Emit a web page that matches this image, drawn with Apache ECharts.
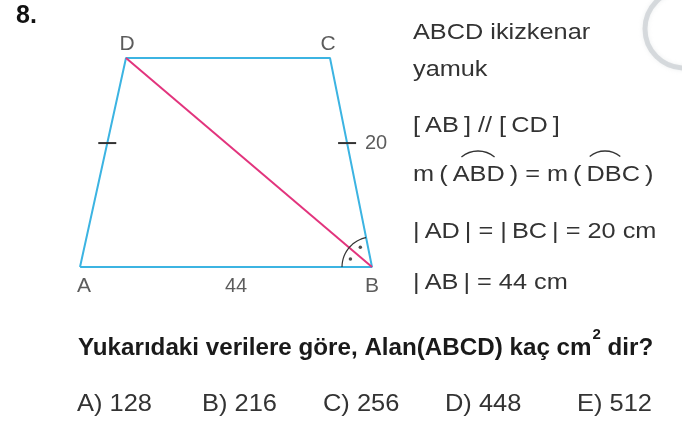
<!DOCTYPE html>
<html><head><meta charset="utf-8">
<script src="https://cdn.jsdelivr.net/npm/echarts@6/dist/echarts.min.js"></script>
<style>html,body{margin:0;padding:0;background:#fff}#c{width:682px;height:423px}</style>
</head><body><div id="c"></div>
<script>
// ---- data ----
const vertexNames = ['A', 'B', 'C', 'D'];
const vertexX = [80, 372, 330, 126];
const vertexY = [267, 267, 58, 58];
const sideLabelAB = '44';
const sideLabelBC = '20';
const givenLines = ['ABCD ikizkenar', 'yamuk', '[\u2009AB\u2009] // [\u2009CD\u2009]', 'm\u2009(\u2009ABD\u2009) = m\u2009(\u2009DBC\u2009)', '|\u2009AD\u2009| = |\u2009BC\u2009| = 20 cm', '|\u2009AB\u2009| = 44 cm'];
const questionNumber = '8.';
const questionMain = 'Yukarıdaki verilere göre, Alan(ABCD) kaç cm';
const questionSup = '2';
const questionTail = ' dir?';
const choiceLabels = ['A) 128', 'B) 216', 'C) 256', 'D) 448', 'E) 512'];

// ---- layout ----
const givenY = [33, 70, 126, 175, 232, 283];
const choiceX = [77, 202, 323, 445, 577];
const CYAN = '#3cb4e2', PINK = '#e2347d', TXT = '#333';

const P = i => [vertexX[i], vertexY[i]];
const A = P(0), B = P(1), C = P(2), D = P(3);
const along = (p, q, t) => [p[0] + (q[0] - p[0]) * t, p[1] + (q[1] - p[1]) * t];
const tickT = 0.593;
const t1 = along(A, D, tickT), t2 = along(B, C, tickT);
const ang = (from, to) => Math.atan2(to[1] - from[1], to[0] - from[0]);
const fix = a => (a < 0 ? a + 2 * Math.PI : a);
const aBA = fix(ang(B, A)), aBD = fix(ang(B, D)), aBC = fix(ang(B, C));
const arcPts = [];
for (let k = 0; k <= 30; k++) {
  const a = aBA + (aBC - aBA) * k / 30;
  arcPts.push([B[0] + 30 * Math.cos(a), B[1] + 30 * Math.sin(a)]);
}
const dotR = 23;
const m1 = (aBA + aBD) / 2, m2 = (aBD + aBC) / 2;
const dots = [[B[0] + dotR * Math.cos(m1), B[1] + dotR * Math.sin(m1)], [B[0] + dotR * Math.cos(m2), B[1] + dotR * Math.sin(m2)]];

const labelOffsets = [[4, 19], [0, 19], [-2, -14], [1, -14]];
const vertexLabelData = vertexNames.map((n, i) => ({
  name: n, value: P(i),
  label: { show: true, formatter: n, offset: labelOffsets[i] }
}));
const sideLabelData = [
  { name: sideLabelAB, value: along(A, B, 0.5), label: { show: true, formatter: sideLabelAB, offset: [10, 19] } },
  { name: sideLabelBC, value: t2, label: { show: true, formatter: sideLabelBC, offset: [29, 0] } }
];

const ctx = document.createElement('canvas').getContext('2d');
const measure = (t, f) => { ctx.font = f; return ctx.measureText(t).width; };
const QFONT = 'bold 24.2px "Liberation Sans"';
const SFONT = 'bold 15px "Liberation Sans"';
const qW = measure(questionMain, QFONT);
const sW = measure(questionSup, SFONT);

const chart = echarts.init(document.getElementById('c'));
const seg = (data, color, w) => ({ type: 'line', data, symbol: 'none', silent: true, animation: false, lineStyle: { color, width: w } });

const graphic = [];
graphic.push({ type: 'text', x: 16, y: 16, style: { text: questionNumber, font: 'bold 25px "Liberation Sans"', fill: '#111', textVerticalAlign: 'middle' } });
givenLines.forEach((t, i) => {
  graphic.push({ type: 'text', x: 413, y: givenY[i], scaleX: 1.15, style: { text: t, font: '22px "Liberation Sans"', fill: TXT, textVerticalAlign: 'middle' } });
});
graphic.push({ type: 'arc', shape: { cx: 478, cy: 177, r: 26, startAngle: Math.PI * 1.28, endAngle: Math.PI * 1.72 }, style: { stroke: TXT, lineWidth: 1.3, fill: null } });
graphic.push({ type: 'arc', shape: { cx: 605, cy: 175, r: 24, startAngle: Math.PI * 1.28, endAngle: Math.PI * 1.72 }, style: { stroke: TXT, lineWidth: 1.3, fill: null } });
graphic.push({ type: 'text', x: 78, y: 348, style: { text: questionMain, font: QFONT, fill: '#1a1a1a', textVerticalAlign: 'middle' } });
graphic.push({ type: 'text', x: 78 + qW + 1, y: 335, style: { text: questionSup, font: SFONT, fill: '#1a1a1a', textVerticalAlign: 'middle' } });
graphic.push({ type: 'text', x: 78 + qW + sW + 1, y: 348, style: { text: questionTail, font: QFONT, fill: '#1a1a1a', textVerticalAlign: 'middle' } });
choiceLabels.forEach((t, i) => {
  graphic.push({ type: 'text', x: choiceX[i], y: 404, scaleX: 1.06, style: { text: t, font: '24px "Liberation Sans"', fill: TXT, textVerticalAlign: 'middle' } });
});
graphic.push({ type: 'circle', shape: { cx: 684, cy: 29, r: 39 }, style: { fill: null, stroke: 'rgba(190,195,200,0.55)', lineWidth: 5, shadowBlur: 4, shadowColor: 'rgba(190,195,200,0.5)' } });

chart.setOption({
  animation: false,
  grid: { left: 0, right: 0, top: 0, bottom: 0 },
  xAxis: { type: 'value', min: 0, max: 682, show: false },
  yAxis: { type: 'value', min: 0, max: 423, inverse: true, show: false },
  series: [
    seg([A, B, C, D, A], CYAN, 2),
    seg([D, B], PINK, 2),
    seg([[t1[0] - 9, t1[1]], [t1[0] + 9, t1[1]]], '#333', 2),
    seg([[t2[0] - 9, t2[1]], [t2[0] + 9, t2[1]]], '#333', 2),
    seg(arcPts, '#333', 1.2),
    { type: 'scatter', data: dots, symbolSize: 3.5, itemStyle: { color: '#222' }, silent: true },
    { type: 'scatter', data: vertexLabelData, symbolSize: 0, silent: true,
      label: { position: 'inside', color: TXT, fontSize: 21, fontFamily: 'Liberation Sans' } },
    { type: 'scatter', data: sideLabelData, symbolSize: 0, silent: true,
      label: { position: 'inside', color: TXT, fontSize: 20, fontFamily: 'Liberation Sans' } }
  ],
  graphic
});
</script></body></html>
